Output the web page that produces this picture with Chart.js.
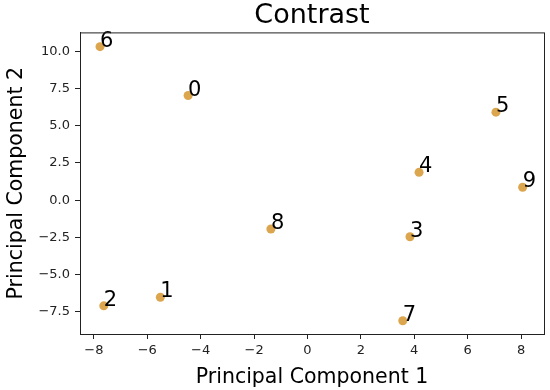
<!DOCTYPE html>
<html>
<head>
<meta charset="utf-8">
<script src="https://cdn.jsdelivr.net/npm/chart.js@4/dist/chart.umd.min.js"></script>
<style>
  html, body { margin: 0; padding: 0; background: #fff; }
  #wrap { width: 550px; height: 390px; }
</style>
</head>
<body>
<div id="wrap"><canvas id="scatter-chart" width="550" height="390"></canvas></div>
<script>
// data
var pointLabels = ['0', '1', '2', '3', '4', '5', '6', '7', '8', '9'];
var pc1 = [-4.47, -5.51, -7.63, 3.84, 4.18, 7.06, -7.77, 3.57, -1.37, 8.06];
var pc2 = [7.03, -6.52, -7.10, -2.46, 1.87, 5.91, 10.31, -8.10, -1.94, 0.87];
var xTicks = [-8, -6, -4, -2, 0, 2, 4, 6, 8];
var yTicks = [-7.5, -5.0, -2.5, 0.0, 2.5, 5.0, 7.5, 10.0];

var font = 'DejaVu Sans';
var points = pc1.map(function(x, i) {
    return {x: x, y: pc2[i]};
});

function minus(s) {
    return s.replace('-', '\u2212');
}

// numbers next to the dots + the box around the plot
var labelPlugin = {
    id: 'pointText',
    afterDatasetsDraw: function(chart) {
        var ctx = chart.ctx;
        var meta = chart.getDatasetMeta(0);
        ctx.save();
        ctx.font = '21px "' + font + '"';
        ctx.fillStyle = '#000';
        ctx.textAlign = 'left';
        ctx.textBaseline = 'alphabetic';
        meta.data.forEach(function(pt, i) {
            ctx.fillText(pointLabels[i], pt.x, pt.y);
        });
        var a = chart.chartArea;
        ctx.strokeStyle = '#222';
        ctx.lineWidth = 1;
        ctx.strokeRect(a.left + 0.5, a.top + 0.5, a.right - a.left, a.bottom - a.top);
        ctx.restore();
    }
};

new Chart(document.getElementById('scatter-chart'), {
    type: 'scatter',
    data: {
        datasets: [{
            data: points,
            backgroundColor: '#dca64f',
            borderWidth: 0,
            pointRadius: 4.5,
            pointHoverRadius: 4.5
        }]
    },
    options: {
        responsive: false,
        animation: false,
        layout: {padding: {left: 0, right: 6, top: 0, bottom: 0}},
        plugins: {
            legend: {display: false},
            tooltip: {enabled: false},
            title: {
                display: true,
                text: 'Contrast',
                fullSize: false,
                color: '#000',
                font: {family: font, size: 27, weight: 'normal', lineHeight: 1.2},
                padding: {top: 0, bottom: 0}
            }
        },
        scales: {
            x: {
                type: 'linear',
                min: -8.52,
                max: 8.86,
                afterBuildTicks: function(scale) {
                    scale.ticks = xTicks.map(function(v) { return {value: v}; });
                },
                afterFit: function(scale) { scale.height = 56; },
                grid: {drawOnChartArea: false, drawTicks: true, tickLength: 5, color: '#222'},
                border: {display: true, color: '#222'},
                ticks: {
                    color: '#222',
                    padding: 4,
                    maxRotation: 0,
                    font: {family: font, size: 13},
                    callback: function(v) { return minus(String(v)); }
                },
                title: {
                    display: true,
                    text: 'Principal Component 1',
                    color: '#000',
                    font: {family: font, size: 20.5},
                    padding: {top: 2, bottom: 0}
                }
            },
            y: {
                type: 'linear',
                min: -8.99,
                max: 11.27,
                afterBuildTicks: function(scale) {
                    scale.ticks = yTicks.map(function(v) { return {value: v}; });
                },
                afterFit: function(scale) { scale.width = 80; },
                grid: {drawOnChartArea: false, drawTicks: true, tickLength: 5, color: '#222'},
                border: {display: true, color: '#222'},
                ticks: {
                    color: '#222',
                    padding: 5,
                    font: {family: font, size: 13},
                    callback: function(v) { return minus(v.toFixed(1)); }
                },
                title: {
                    display: true,
                    text: 'Principal Component 2',
                    color: '#000',
                    font: {family: font, size: 20.5},
                    padding: {top: 4, bottom: 0}
                }
            }
        }
    },
    plugins: [labelPlugin]
});
</script>
</body>
</html>
